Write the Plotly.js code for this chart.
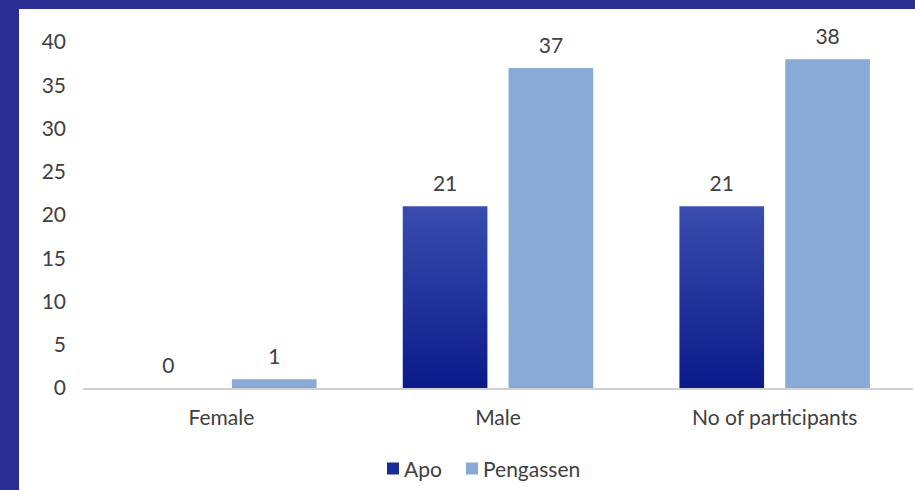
<!DOCTYPE html>
<html>
<head>
<meta charset="utf-8">
<script src="https://cdn.plot.ly/plotly-3.0.1.min.js"></script>
<style>
  html, body { margin: 0; padding: 0; }
  body { width: 915px; height: 490px; background: #2b2f94; position: relative; overflow: hidden; }
  #frame { position: absolute; left: 19px; top: 9px; width: 896px; height: 481px; background: #ffffff; box-shadow: inset 1px 0 0 #c9cde6; }
  #chart { width: 896px; height: 481px; }
</style>
</head>
<body>
<div id="frame"><div id="chart"></div></div>
<script>
// Participants per group
const categories = ["Female", "Male", "No of participants"];
const apoValues = [0, 21, 21];
const pengassenValues = [1, 37, 38];
const yTicks = [0, 5, 10, 15, 20, 25, 30, 35, 40];

const fontFamily = "Lato, 'Open Sans', sans-serif";
const textColor = "#404040";
const fontSize = 21;

const traces = [
  {
    type: "bar",
    name: "Apo",
    x: categories,
    y: apoValues,
    text: apoValues.map(String),
    textposition: "outside",
    cliponaxis: false,
    marker: { color: "#1a2a96" },
    textfont: { family: fontFamily, size: fontSize, color: textColor },
    hoverinfo: "skip"
  },
  {
    type: "bar",
    name: "Pengassen",
    x: categories,
    y: pengassenValues,
    text: pengassenValues.map(String),
    textposition: "outside",
    cliponaxis: false,
    marker: { color: "#89a9d7" },
    textfont: { family: fontFamily, size: fontSize, color: textColor },
    hoverinfo: "skip"
  }
];

const layout = {
  width: 896,
  height: 481,
  margin: { l: 64, r: 2, t: 33, b: 101 },
  paper_bgcolor: "#ffffff",
  plot_bgcolor: "#ffffff",
  barmode: "group",
  bargap: 0.235,
  bargroupgap: 0.2,
  font: { family: fontFamily, size: fontSize, color: textColor },
  showlegend: true,
  legend: {
    orientation: "h",
    x: 0.5, xanchor: "center",
    y: -0.23, yanchor: "middle",
    font: { family: fontFamily, size: fontSize, color: textColor },
    itemwidth: 30,
    traceorder: "normal"
  },
  xaxis: {
    showgrid: false,
    showline: true,
    linecolor: "#d0d0d0",
    linewidth: 2,
    ticks: "",
    ticklabelstandoff: 10,
    tickfont: { family: fontFamily, size: fontSize, color: textColor },
    fixedrange: true
  },
  yaxis: {
    range: [0, 40],
    tickvals: yTicks,
    ticktext: yTicks.map(String),
    showgrid: false,
    zeroline: false,
    showline: false,
    ticks: "",
    ticklabelstandoff: 16,
    tickfont: { family: fontFamily, size: fontSize, color: textColor },
    fixedrange: true
  }
};

Plotly.newPlot("chart", traces, layout, { staticPlot: true, displayModeBar: false }).then(function (gd) {
  const svg = gd.querySelector("svg.main-svg");
  const ns = "http://www.w3.org/2000/svg";

  // Vertical shading on the Apo bars: lighter royal blue at the top, deep navy at the bottom
  let defs = svg.querySelector("defs");
  if (!defs) { defs = document.createElementNS(ns, "defs"); svg.insertBefore(defs, svg.firstChild); }
  const grad = document.createElementNS(ns, "linearGradient");
  grad.setAttribute("id", "apoShade");
  grad.setAttribute("x1", "0"); grad.setAttribute("y1", "0");
  grad.setAttribute("x2", "0"); grad.setAttribute("y2", "1");
  [["0", "#3a4cae"], ["1", "#0a1a8a"]].forEach(function (s) {
    const stop = document.createElementNS(ns, "stop");
    stop.setAttribute("offset", s[0]);
    stop.setAttribute("stop-color", s[1]);
    grad.appendChild(stop);
  });
  defs.appendChild(grad);
  const barTraces = gd.querySelectorAll(".barlayer .trace");
  if (barTraces[0]) {
    barTraces[0].querySelectorAll("path").forEach(function (p) { p.style.fill = "url(#apoShade)"; });
  }

  // Leave a little more air between each bar and its value label
  gd.querySelectorAll(".barlayer text.bartext").forEach(function (t) {
    const tr = t.getAttribute("transform") || "";
    t.setAttribute("transform", "translate(0,-8) " + tr);
  });

  // Legend entries: swatch with its label close beside it
  const swatchLeft = [387, 466];
  const labelGap = 5;
  gd.querySelectorAll(".legend .traces").forEach(function (g, i) {
    if (i >= swatchLeft.length) return;
    const sym = g.querySelector(".legendpoints path");
    const txt = g.querySelector("text.legendtext");
    if (!sym || !txt) return;
    const tr = g.getAttribute("transform") || "";
    const m = tr.match(/translate\(([-\d.]+),\s*([-\d.]+)\)/);
    if (!m) return;
    const dx = swatchLeft[i] - sym.getBoundingClientRect().left;
    g.setAttribute("transform", "translate(" + (parseFloat(m[1]) + dx) + "," + m[2] + ")");
    const sr = sym.getBoundingClientRect();
    const tx = txt.getBoundingClientRect();
    const shift = (sr.right + labelGap) - tx.left;
    txt.setAttribute("x", parseFloat(txt.getAttribute("x")) + shift);
  });
});
</script>
</body>
</html>
